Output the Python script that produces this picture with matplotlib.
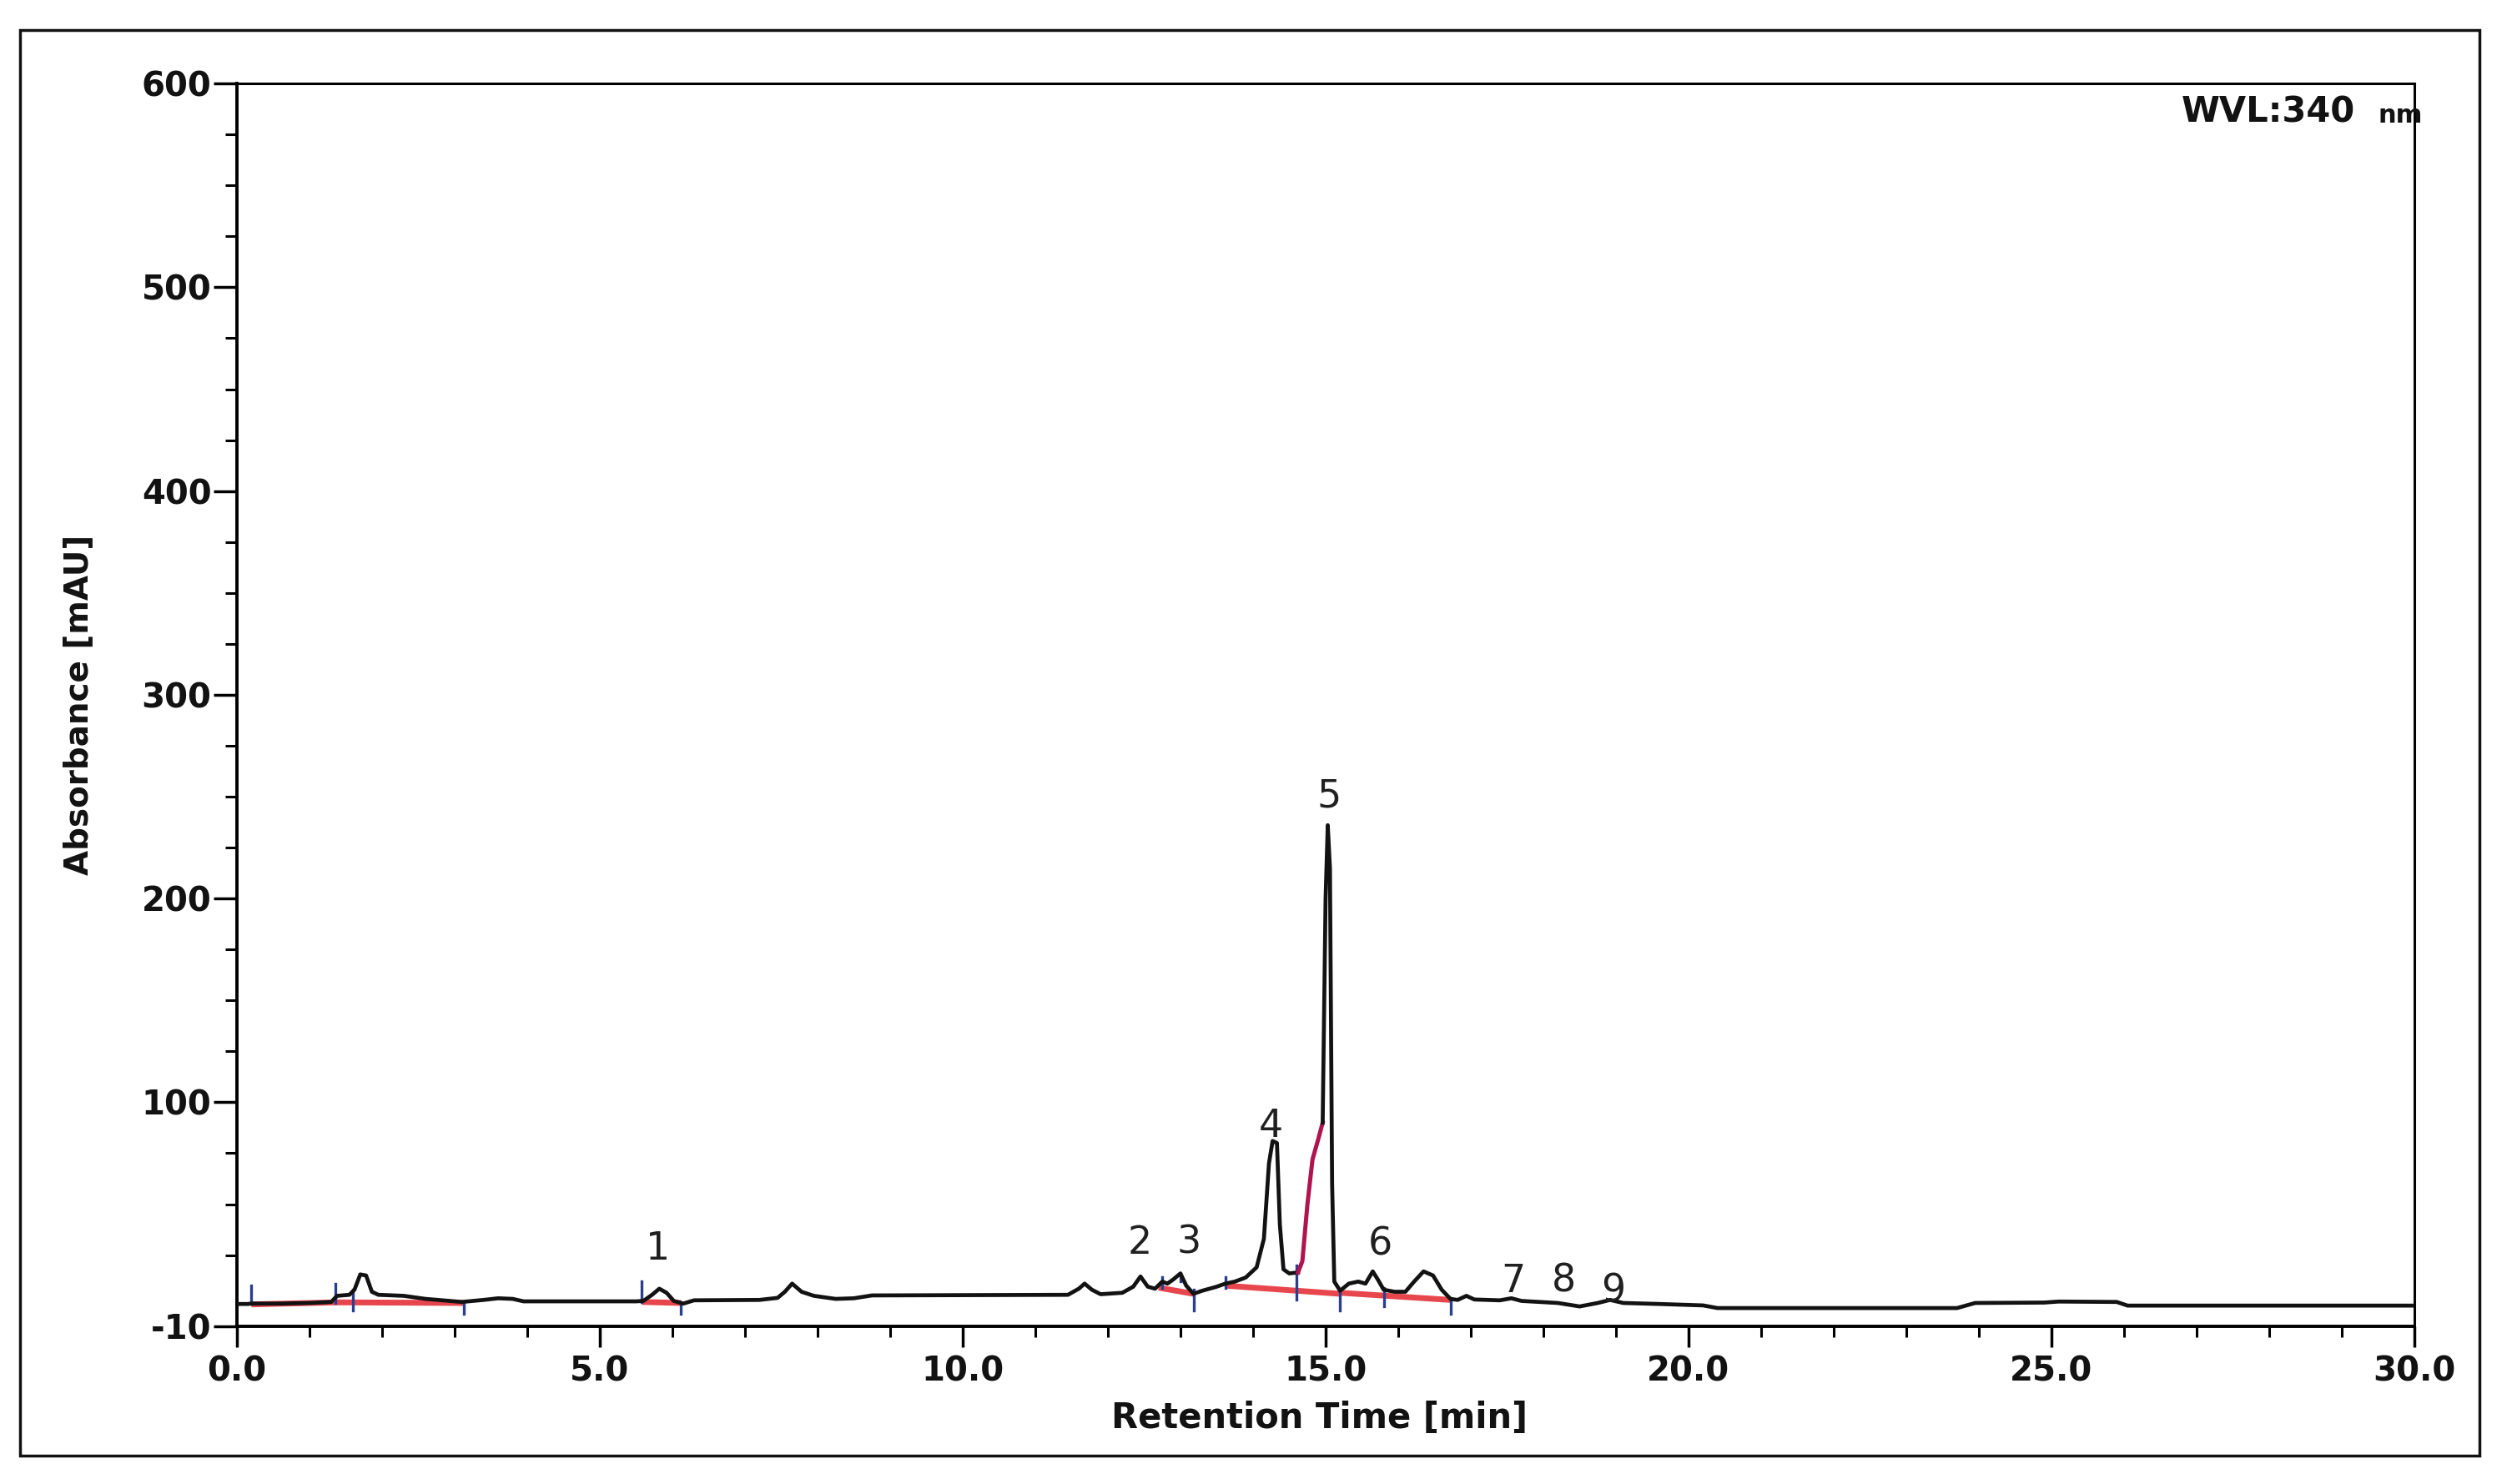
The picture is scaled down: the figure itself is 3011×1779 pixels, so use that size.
import matplotlib
matplotlib.use("Agg")
import matplotlib.pyplot as plt
from matplotlib.patches import Rectangle
from matplotlib.ticker import FixedLocator, MultipleLocator

plt.rcParams["font.family"] = ["DejaVu Sans"]

# chromatogram trace: retention time [min] / absorbance [mAU]
rt = [0.00, 0.15, 0.20, 0.60, 1.00, 1.30, 1.38, 1.55, 1.62, 1.70, 1.78, 1.86, 1.95,
      2.30, 2.60, 3.10, 3.40, 3.60, 3.80, 3.95, 5.50, 5.60, 5.72, 5.82, 5.92, 6.02,
      6.15, 6.30, 7.20, 7.45, 7.55, 7.65, 7.78, 7.95, 8.25, 8.50, 8.75, 11.45, 11.60,
      11.68, 11.78, 11.90, 12.20, 12.35, 12.45, 12.55, 12.65, 12.75, 12.82, 12.90,
      13.00, 13.08, 13.18, 13.30, 13.50, 13.62, 13.75, 13.90, 14.05, 14.15, 14.22,
      14.27, 14.33, 14.37, 14.42, 14.50, 14.62]
absorb = [1.0, 1.0, 1.2, 1.2, 1.5, 2.0, 5.0, 5.5, 8.0, 15.5, 15.0, 7.0, 5.5,
          5.0, 3.5, 2.0, 3.0, 3.8, 3.5, 2.3, 2.3, 2.5, 5.5, 8.5, 6.5, 2.5,
          1.2, 2.8, 3.0, 4.0, 7.0, 11.0, 7.0, 5.0, 3.5, 3.8, 5.2, 5.5, 8.5,
          11.0, 8.0, 5.8, 6.5, 9.5, 14.5, 9.5, 8.5, 12.0, 11.0, 13.0,
          16.0, 10.0, 6.0, 7.5, 9.5, 11.0, 12.0, 14.0, 19.0, 33.0, 70.0,
          81.0, 80.0, 40.0, 18.0, 16.0, 16.5]

# front of peak 5 (drawn pink in the report)
rt_front = [14.62, 14.68, 14.75, 14.82, 14.90, 14.96]
absorb_front = [16.5, 22.0, 50.0, 72.0, 82.0, 90.0]

rt_tail = [14.96, 15.00, 15.03, 15.06, 15.09, 15.12, 15.20, 15.32, 15.45, 15.55,
           15.65, 15.72, 15.80, 15.95, 16.10, 16.22, 16.35, 16.48, 16.60, 16.72,
           16.82, 16.94, 17.05, 17.40, 17.56, 17.70, 18.20, 18.50, 18.75, 18.92,
           19.10, 19.60, 20.20, 20.40, 23.70, 23.95, 24.90, 25.10, 25.90, 26.05, 30.00]
absorb_tail = [90.0, 200.0, 236.0, 215.0, 60.0, 12.0, 7.5, 11.0, 12.0, 11.0,
               17.0, 13.0, 8.0, 7.0, 7.0, 12.0, 17.0, 15.0, 8.0, 3.5,
               3.0, 5.0, 3.2, 2.8, 3.8, 2.5, 1.5, -0.2, 1.5, 3.0,
               1.5, 1.0, 0.3, -1.0, -1.0, 1.5, 1.7, 2.2, 2.0, 0.2, 0.2]

# integration baselines (start time, start value, end time, end value)
base_t0 = [0.20, 1.38, 5.58, 12.70, 13.62, 15.20]
base_v0 = [0.8, 1.8, 2.0, 9.0, 10.0, 6.5]
base_t1 = [1.38, 3.13, 6.12, 13.18, 15.20, 16.72]
base_v1 = [1.8, 1.5, 1.5, 6.0, 6.0, 3.0]

# peak delimiter marks (time, low, high)
mark_t = [0.20, 1.36, 1.60, 3.13, 5.58, 6.12, 12.75, 13.00, 13.18, 13.62, 14.60, 15.20, 15.81, 16.72]
mark_lo = [1.0, 1.5, -2.0, -4.0, 2.0, -4.0, 9.0, 12.0, -2.0, 9.0, 3.0, -2.0, 0.0, -4.0]
mark_hi = [10.0, 11.0, 8.0, 2.0, 12.0, 2.0, 14.0, 16.0, 8.0, 14.0, 20.0, 8.0, 9.0, 4.0]

# peak numbers and where they are written
peak_names = ["1", "2", "3", "4", "5", "6", "7", "8", "9"]
peak_x = [5.80, 12.44, 13.12, 14.25, 15.05, 15.75, 17.59, 18.28, 18.96]
peak_y = [27.7, 30.8, 30.8, 88.0, 250.0, 30.1, 12.0, 12.0, 7.3]

x_ticks = [0, 5, 10, 15, 20, 25, 30]
x_labels = ["0.0", "5.0", "10.0", "15.0", "20.0", "25.0", "30.0"]
y_ticks = [-10, 100, 200, 300, 400, 500, 600]
y_labels = ["-10", "100", "200", "300", "400", "500", "600"]
y_minor = [25, 50, 75, 125, 150, 175, 225, 250, 275, 325, 350, 375,
           425, 450, 475, 525, 550, 575]

ink = "#121212"

fig = plt.figure(figsize=(30.11, 17.79), dpi=100)
ax = fig.add_axes([0.0943, 0.1062, 0.8668, 0.8375])

# baselines and marks go under the trace
for t0, v0, t1, v1 in zip(base_t0, base_v0, base_t1, base_v1):
    ax.plot([t0, t1], [v0, v1], color="#e3262e", lw=5, alpha=0.85,
            solid_capstyle="butt", zorder=2)
for t, lo, hi in zip(mark_t, mark_lo, mark_hi):
    ax.plot([t, t], [lo, hi], color="#2b3d8f", lw=2.4, zorder=2)

ax.plot(rt, absorb, color=ink, lw=3.4, zorder=3)
ax.plot(rt_front, absorb_front, color="#b0144f", lw=3.6, zorder=3)
ax.plot(rt_tail, absorb_tail, color=ink, lw=3.4, zorder=3)

for name, px, py in zip(peak_names, peak_x, peak_y):
    ax.text(px, py, name, ha="center", va="center", fontsize=33, color="#202020",
            family=["Liberation Sans Narrow", "DejaVu Sans"])

ax.set_xlim(0, 30)
ax.set_ylim(-10, 600)
ax.set_xticks(x_ticks)
ax.set_xticklabels(x_labels, fontsize=29, fontweight="bold", color=ink)
ax.set_yticks(y_ticks)
ax.set_yticklabels(y_labels, fontsize=29, fontweight="bold", color=ink)
ax.xaxis.set_minor_locator(MultipleLocator(1))
ax.yaxis.set_minor_locator(FixedLocator(y_minor))

ax.tick_params(axis="y", which="major", direction="out", length=20, width=2.5, pad=2)
ax.tick_params(axis="y", which="minor", direction="out", length=10, width=2.2)
ax.tick_params(axis="x", which="major", direction="out", length=18, width=2.5, pad=7)
ax.tick_params(axis="x", which="minor", direction="out", length=9, width=2.2)

for side in ["left", "bottom"]:
    ax.spines[side].set_linewidth(2.8)
for side in ["top", "right"]:
    ax.spines[side].set_linewidth(2.2)

ax.set_xlabel("Retention Time [min]", fontsize=30, fontweight="bold", color=ink)
ax.set_ylabel("Absorbance [mAU]", fontsize=28, fontweight="bold", color=ink)
ax.xaxis.set_label_coords(0.497, -0.060)
ax.yaxis.set_label_coords(-0.0655, 0.5)

ax.text(0.9728, 0.977, "WVL:340", transform=ax.transAxes, ha="right", va="center",
        fontsize=30, fontweight="bold", color=ink)
ax.text(1.004, 0.974, "nm", transform=ax.transAxes, ha="right", va="center",
        fontsize=22, fontweight="bold", color=ink)

# outer frame of the printout
fig.add_artist(Rectangle((0.008, 0.019), 0.979, 0.961, transform=fig.transFigure,
                         fill=False, lw=2.5, edgecolor=ink))

fig.savefig("out.png", dpi=100, facecolor="white")
